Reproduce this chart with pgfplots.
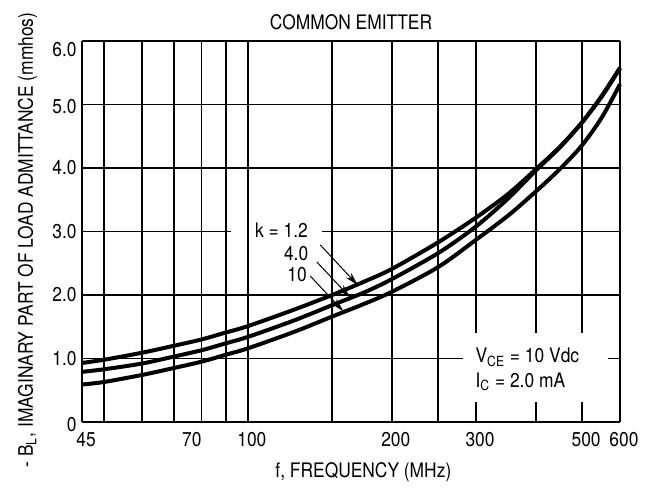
\documentclass[border=0pt]{standalone}
\usepackage{fontspec}
\setmainfont{TeX Gyre Heros}[FakeStretch=0.87]
\usepackage{pgfplots}
\pgfplotsset{compat=1.18}
\usetikzlibrary{arrows.meta}

\begin{document}
\begin{tikzpicture}[font=\fontsize{10}{12}\selectfont]
% fixed page size: 654x489 px at 2 px per pt
\path[use as bounding box] (-41pt,-33.5pt) rectangle (286pt,211pt);
\begin{axis}[
    at={(0pt,0pt)}, anchor=south west,
    scale only axis, width=269pt, height=190.5pt,
    xmode=log, xmin=45, xmax=600, ymin=0, ymax=6,
    axis lines=left, axis line style={-, line width=1.3pt},
    clip=false,
    xtick={45,50,60,70,80,90,100,150,200,250,300,400,500,600},
    xticklabels={45,,,{\hspace{14pt}70},,,100,,200,,300,,500,600},
    ytick={0,1,2,3,4,5,6},
    yticklabels={{\raisebox{-1.5pt}[\height][\depth]{0}},1.0,2.0,3.0,4.0,{\raisebox{-1pt}[\height][\depth]{5.0}},{\raisebox{-4.5pt}[\height][\depth]{6.0}}},
    major tick length=0pt,
    grid=major,
    major grid style={line width=0.75pt, black},
    xticklabel style={anchor=base, yshift=-12pt, xshift=2pt},
    yticklabel style={anchor=east, inner sep=0pt, xshift=-2.5pt},
    /pgf/number format/assume math mode=true,
]

% k = 1.2
\addplot[black, line width=2pt, smooth] coordinates {
    (45,0.93) (50,0.98) (60,1.09) (70,1.20) (80,1.30) (90,1.41) (100,1.51)
    (125,1.77) (150,2.00) (175,2.21) (200,2.41) (250,2.83) (300,3.22)
    (350,3.59) (400,3.98) (450,4.34) (500,4.72) (550,5.13) (600,5.57)
};
% k = 4.0
\addplot[black, line width=2pt, smooth] coordinates {
    (45,0.79) (50,0.83) (60,0.92) (70,1.03) (80,1.13) (90,1.24) (100,1.34)
    (125,1.60) (150,1.84) (175,2.04) (200,2.25) (250,2.66) (300,3.08)
    (350,3.52) (400,3.96) (450,4.33) (500,4.72) (550,5.14) (600,5.58)
};
% k = 10
\addplot[black, line width=2pt, smooth] coordinates {
    (45,0.59) (50,0.63) (60,0.74) (70,0.85) (80,0.95) (90,1.06) (100,1.16)
    (125,1.42) (150,1.66) (175,1.86) (200,2.05) (250,2.44) (300,2.87)
    (350,3.25) (400,3.63) (450,3.99) (500,4.36) (550,4.80) (600,5.32)
};

% gap in the 3.0 grid line behind the k labels
\draw[white, line width=2pt] (axis cs:92.2,3) -- (axis cs:143,3);
\draw[black, line width=0.75pt] (axis cs:100,2.9) -- (axis cs:100,3.1);
\node[anchor=base east, inner sep=0pt] at (axis cs:133.7,2.90) {k = 1.2};
\node[anchor=base east, inner sep=0pt] at (axis cs:134,2.55) {4.0};
\node[anchor=base east, inner sep=0pt] at (axis cs:133,2.21) {10};
\draw[line width=0.5pt, -{Stealth[length=7pt,width=3.5pt]}] (axis cs:141.7,2.79) -- (axis cs:170,2.15);
\draw[line width=0.5pt, -{Stealth[length=7pt,width=3.5pt]}] (axis cs:139.4,2.52) -- (axis cs:163.7,1.96);
\draw[line width=0.5pt, -{Stealth[length=7pt,width=3.5pt]}] (axis cs:135,2.30) -- (axis cs:158.5,1.74);

% bias conditions
\fill[white] (axis cs:282,0.315) rectangle (axis cs:567,1.40);
\node[anchor=base west, inner sep=0pt] at (axis cs:298.8,0.93) {V\textsubscript{CE} = 10 Vdc};
\node[anchor=base west, inner sep=0pt] at (axis cs:298.8,0.55) {I\textsubscript{C} = 2.0 mA};

\node[anchor=base] at (rel axis cs:0.5,1.0315) {COMMON EMITTER};
\node[anchor=base] at (rel axis cs:0.523,-0.1444) {f, FREQUENCY (MHz)};
\node[rotate=90, anchor=base, font=\fontsize{10}{12}\selectfont]
    at (rel axis cs:-0.0911,0.4777) {- B\textsubscript{L}, IMAGINARY PART OF LOAD ADMITTANCE (mmhos)};
\end{axis}
\end{tikzpicture}
\end{document}
